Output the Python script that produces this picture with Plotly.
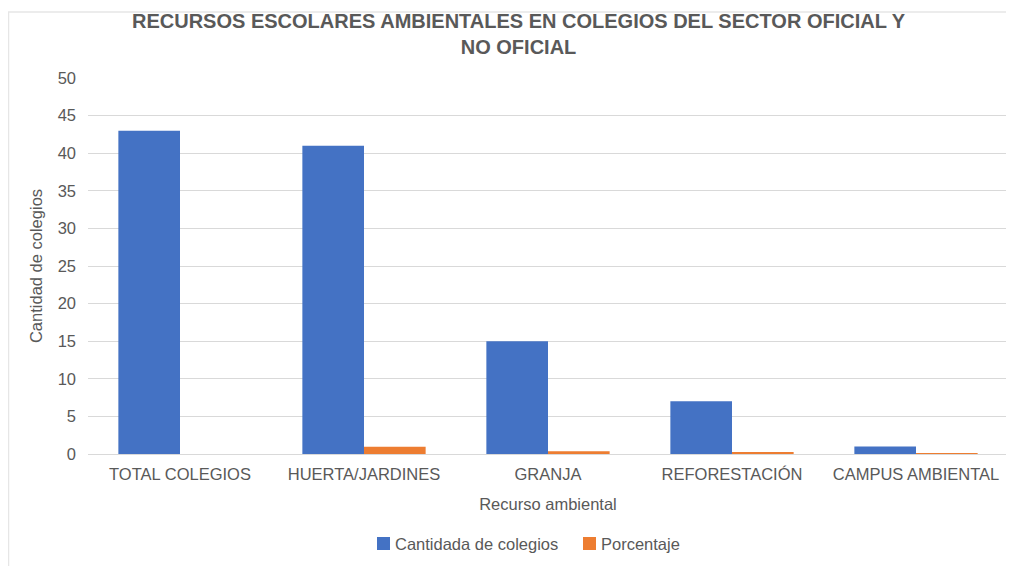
import plotly.graph_objects as go

categories = ["TOTAL COLEGIOS", "HUERTA/JARDINES", "GRANJA", "REFORESTACIÓN", "CAMPUS AMBIENTAL"]
cantidad = [43, 41, 15, 7, 1]
porcentaje = [0, 0.95, 0.35, 0.16, 0.02]
series_names = ["Cantidada de colegios", "Porcentaje"]
series_colors = ["#4472C4", "#ED7D31"]
title_text = "<b>RECURSOS ESCOLARES AMBIENTALES EN COLEGIOS DEL SECTOR OFICIAL Y<br>NO OFICIAL</b>"

FONT = "Liberation Sans, Arial, sans-serif"
GRAY = "#595959"
FS = 16.5

fig = go.Figure()
for name, vals, col in zip(series_names, [cantidad, porcentaje], series_colors):
    fig.add_trace(go.Bar(x=categories, y=vals, name=name, showlegend=False,
                         marker=dict(color=col, line=dict(width=0))))

# the page body adds an 8px offset; figure coordinates = page - 8
OFF = 8
W, H = 1014 - OFF, 566 - OFF
L, R, T, B = 88 - OFF, W - (1008 - OFF), 78 - OFF, H - (454 - OFF)
pw, ph = W - L - R, H - T - B

def px(x):
    return (x - OFF - L) / pw

def py(y):
    return (H - B - (y - OFF)) / ph

legend_x = [377, 583]
shapes = [
    dict(type="line", xref="paper", yref="paper", x0=px(8), x1=px(1014), y0=py(12), y1=py(12),
         line=dict(color="#E6E6E6", width=1.5)),
    dict(type="line", xref="paper", yref="paper", x0=px(8.5), x1=px(8.5), y0=py(12), y1=py(566),
         line=dict(color="#E6E6E6", width=1.5)),
]
annotations = [dict(text=title_text, xref="paper", yref="paper", x=px(519), y=py(34),
                    xanchor="center", yanchor="middle", showarrow=False,
                    font=dict(family=FONT, size=20, color=GRAY))]
for lx, name, col in zip(legend_x, series_names, series_colors):
    shapes.append(dict(type="rect", xref="paper", yref="paper",
                       x0=px(lx), x1=px(lx + 13), y0=py(550), y1=py(537),
                       fillcolor=col, line=dict(width=0)))
    annotations.append(dict(text=name, xref="paper", yref="paper", x=px(lx + 16), y=py(544),
                            xanchor="left", yanchor="middle", showarrow=False,
                            font=dict(family=FONT, size=FS, color=GRAY)))

fig.update_layout(
    width=W, height=H,
    margin=dict(l=L, r=R, t=T, b=B),
    paper_bgcolor="white", plot_bgcolor="white",
    barmode="group", bargap=0.33, bargroupgap=0,
    font=dict(family=FONT, color=GRAY, size=FS),
    showlegend=False,
    xaxis=dict(title=dict(text="Recurso ambiental", font=dict(family=FONT, size=FS, color=GRAY), standoff=16),
               tickfont=dict(family=FONT, size=FS, color=GRAY), showgrid=False, automargin=False,
               showline=True, linecolor="#D9D9D9", linewidth=1, ticks="", ticklabelstandoff=5),
    yaxis=dict(title=dict(text="Cantidad de colegios", font=dict(family=FONT, size=FS, color=GRAY), standoff=10),
               range=[0, 50], dtick=5, tickfont=dict(family=FONT, size=FS, color=GRAY), automargin=False,
               gridcolor="#D9D9D9", gridwidth=1, zeroline=False, showline=False, ticks="",
               ticklabelstandoff=11),
    shapes=shapes,
    annotations=annotations,
)

fig.write_html("out.html")
